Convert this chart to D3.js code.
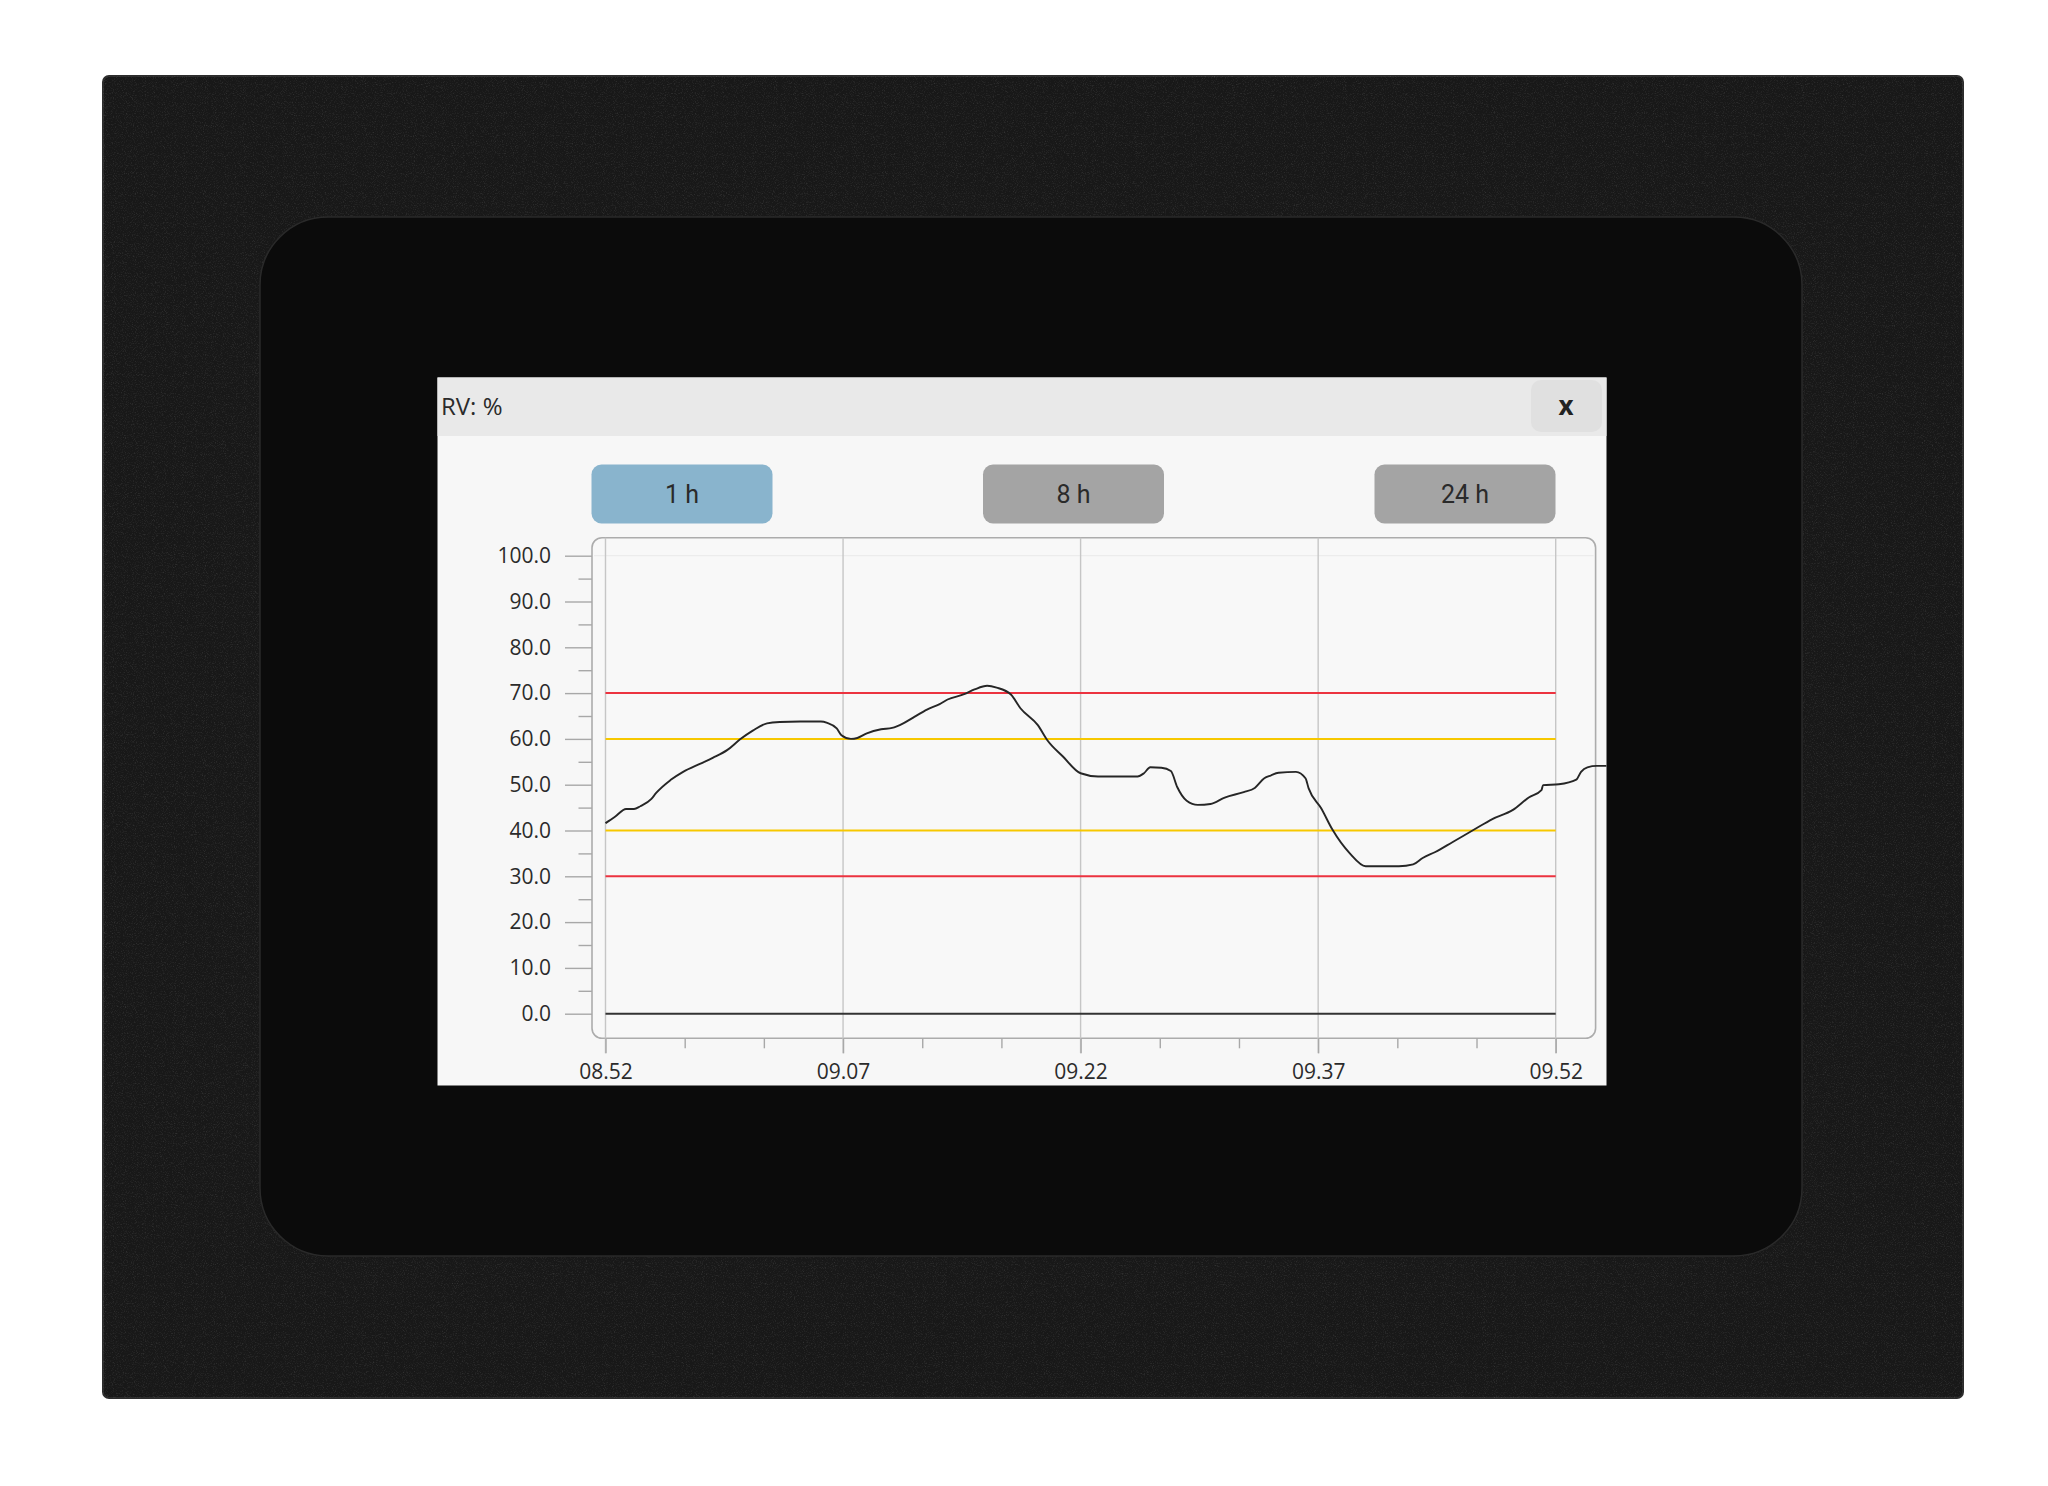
<!DOCTYPE html>
<html>
<head>
<meta charset="utf-8">
<script src="https://cdn.jsdelivr.net/npm/d3@7"></script>
<style>
  body { margin: 0; background: #ffffff; }
  svg { display: block; }
  .axis text { font-family: "Open Sans", sans-serif; font-size: 21px; fill: #2b2b2b; }
  .axis line { stroke: #a8a8a8; stroke-width: 1.4; }
  .axis path { display: none; }
</style>
</head>
<body>
<div id="chart"></div>
<script>
// RV (relative humidity) trend, last hour
var startTime = new Date(2020, 0, 1, 8, 52);
var tickLabels = ["08.52", "09.07", "09.22", "09.37", "09.52"];
var rangeButtons = ["1 h", "8 h", "24 h"];
var yTicks = [0, 10, 20, 30, 40, 50, 60, 70, 80, 90, 100];
var alarmLimits = [30, 70];
var warnLimits = [40, 60];

// minutes after 08.52
var sampleMinutes = [0, 0.6, 1.3, 1.8, 2.2, 2.9, 3.2, 4.1, 4.9, 6.0, 6.8, 7.7, 8.5, 9.3, 10.2, 11.0,
  12.3, 13.6, 14.0, 14.6, 14.9, 15.5, 15.9, 16.5, 17.4, 18.1, 18.8, 19.5, 20.3, 21.1, 21.6, 22.6,
  23.3, 24.1, 24.7, 25.6, 26.2, 27.3, 27.9, 28.9, 30.0, 31.1, 33.6, 34.0, 34.4, 35.1, 35.7, 36.1,
  36.7, 37.4, 38.2, 39.1, 40.3, 41.0, 41.6, 42.0, 42.5, 43.6, 44.2, 44.4, 45.2, 45.9, 47.0, 48.0,
  50.1, 51.0, 51.6, 52.4, 53.5, 54.8, 56.0, 57.3, 58.3, 59.1, 59.2, 60.2, 61.3, 61.6, 62.0, 62.6, 63.2];
var rvValues = [41.6, 43.0, 44.7, 44.7, 45.3, 46.9, 48.2, 51.0, 52.8, 54.6, 55.9, 57.6, 59.9, 61.8, 63.4, 63.7,
  63.8, 63.8, 63.5, 62.3, 60.8, 60.0, 60.2, 61.2, 62.1, 62.4, 63.4, 64.8, 66.4, 67.6, 68.6, 69.7,
  70.8, 71.6, 71.2, 69.7, 66.7, 63.0, 59.7, 56.1, 52.5, 51.8, 51.8, 52.5, 53.8, 53.7, 53.0, 49.5,
  46.5, 45.6, 45.8, 47.2, 48.4, 49.3, 51.4, 52.0, 52.6, 52.8, 51.4, 49.2, 44.8, 40.2, 35.0, 32.2,
  32.2, 32.6, 34.0, 35.3, 37.5, 40.1, 42.5, 44.5, 47.2, 48.8, 49.9, 50.1, 51.1, 52.8, 53.8, 54.1, 54.1];

var svgWidth = 2048;
var svgHeight = 1486;

function addMinutes(m) { return new Date(startTime.getTime() + m * 60000); }

var data = sampleMinutes.map(function (m, i) { return { time: addMinutes(m), rv: rvValues[i] }; });
var tickTimes = tickLabels.map(function (t, i) { return addMinutes(i * 15); });
var minorTimes = d3.range(0, 61, 5).filter(function (m) { return m % 15 !== 0; }).map(addMinutes);

var svg = d3.select("#chart").append("svg")
    .attr("width", svgWidth)
    .attr("height", svgHeight);

// grain texture for the housing
var defs = svg.append("defs");
var grain = defs.append("filter").attr("id", "grain")
    .attr("x", 0).attr("y", 0).attr("width", "100%").attr("height", "100%");
grain.append("feTurbulence").attr("type", "fractalNoise").attr("baseFrequency", 0.9)
    .attr("numOctaves", 3).attr("seed", 7).attr("result", "n");
grain.append("feColorMatrix").attr("in", "n").attr("type", "matrix")
    .attr("values", "0 0 0 0 0.6  0 0 0 0 0.6  0 0 0 0 0.6  1.6 0 0 0 -0.8");
grain.append("feComposite").attr("in2", "SourceGraphic").attr("operator", "in");

// housing
svg.append("rect")
    .attr("x", 103).attr("y", 76).attr("width", 1860).attr("height", 1322).attr("rx", 6)
    .attr("fill", "#181818").attr("stroke", "#2c2c2c").attr("stroke-width", 2);
svg.append("rect")
    .attr("x", 103).attr("y", 76).attr("width", 1860).attr("height", 1322).attr("rx", 6)
    .attr("fill", "#ffffff").attr("opacity", 0.22).attr("filter", "url(#grain)");

// bezel
svg.append("rect")
    .attr("x", 260).attr("y", 217).attr("width", 1542).attr("height", 1039).attr("rx", 68)
    .attr("fill", "#0b0b0b").attr("stroke", "#2a2a2a").attr("stroke-width", 1.5);

// screen
var screen = { x: 437.5, y: 377.5, w: 1169, h: 708 };
svg.append("rect")
    .attr("x", screen.x).attr("y", screen.y).attr("width", screen.w).attr("height", screen.h)
    .attr("fill", "#f7f7f7");
svg.append("rect")
    .attr("x", screen.x).attr("y", screen.y).attr("width", screen.w).attr("height", 58.5)
    .attr("fill", "#e9e9e9");
svg.append("text")
    .attr("x", 441).attr("y", 415)
    .style("font-family", "Open Sans, sans-serif").style("font-size", "24px").attr("fill", "#2b2b2b")
    .text("RV: %");
svg.append("rect")
    .attr("x", 1531).attr("y", 380).attr("width", 71).attr("height", 52).attr("rx", 10)
    .attr("fill", "#e0e0e0");
svg.append("text")
    .attr("x", 1566).attr("y", 415).attr("text-anchor", "middle")
    .style("font-family", "Open Sans, sans-serif").style("font-size", "26px").style("font-weight", 700)
    .attr("fill", "#222")
    .text("x");

// range buttons
var buttonX = d3.scalePoint().domain(rangeButtons).range([682, 1465]);
var buttons = svg.selectAll("g.btn").data(rangeButtons).enter().append("g")
    .attr("class", "btn")
    .attr("transform", function (d) { return "translate(" + buttonX(d) + ",494)"; });
buttons.append("rect")
    .attr("x", -90.5).attr("y", -29.5).attr("width", 181).attr("height", 59).attr("rx", 10)
    .attr("fill", function (d, i) { return i === 0 ? "#89b4cd" : "#a4a4a4"; });
buttons.append("text")
    .attr("text-anchor", "middle").attr("y", 9)
    .style("font-family", "Roboto, sans-serif").style("font-size", "25px").attr("fill", "#2a2a2a")
    .text(function (d) { return d; });

// scales
var xScale = d3.scaleTime()
    .domain([tickTimes[0], tickTimes[tickTimes.length - 1]])
    .range([605.5, 1555.7]);
var yScale = d3.scaleLinear()
    .domain([0, 100])
    .range([1013.7, 555.7]);

var box = { left: 592, top: 537.7, right: 1595.6, bottom: 1038.3 };

// chart frame
svg.append("rect")
    .attr("x", box.left).attr("y", box.top)
    .attr("width", box.right - box.left).attr("height", box.bottom - box.top).attr("rx", 10)
    .attr("fill", "#f8f8f8").attr("stroke", "#acacac").attr("stroke-width", 1.6);

svg.append("line")
    .attr("x1", box.left + 2).attr("x2", box.right - 2)
    .attr("y1", yScale(100)).attr("y2", yScale(100))
    .attr("stroke", "#ececec").attr("stroke-width", 1.2);

// vertical grid
svg.selectAll("line.vgrid").data(tickTimes).enter().append("line")
    .attr("class", "vgrid")
    .attr("x1", function (d) { return xScale(d); }).attr("x2", function (d) { return xScale(d); })
    .attr("y1", box.top).attr("y2", box.bottom + 15)
    .attr("stroke", "#c6c6c6").attr("stroke-width", 1.4);

// axes
var leftAxis = d3.axisLeft(yScale).tickValues(yTicks).tickSize(27).tickPadding(14)
    .tickFormat(d3.format(".1f"));
var leftMinor = d3.axisLeft(yScale).tickValues(yTicks.slice(1).map(function (v) { return v - 5; }))
    .tickSize(13.5).tickFormat("");
svg.append("g").attr("class", "axis").attr("transform", "translate(" + box.left + ",0)").call(leftAxis);
svg.append("g").attr("class", "axis").attr("transform", "translate(" + box.left + ",0)").call(leftMinor);

var bottomAxis = d3.axisBottom(xScale).tickValues(tickTimes).tickSize(15).tickPadding(11)
    .tickFormat(function (d, i) { return tickLabels[i]; });
var bottomMinor = d3.axisBottom(xScale).tickValues(minorTimes).tickSize(10).tickFormat("");
svg.append("g").attr("class", "axis").attr("transform", "translate(0," + box.bottom + ")").call(bottomAxis);
svg.append("g").attr("class", "axis").attr("transform", "translate(0," + box.bottom + ")").call(bottomMinor);

// limit lines
function limitLine(value, color) {
    svg.append("line")
        .attr("x1", xScale.range()[0]).attr("x2", xScale.range()[1])
        .attr("y1", yScale(value)).attr("y2", yScale(value))
        .attr("stroke", color).attr("stroke-width", 2);
}
alarmLimits.forEach(function (v) { limitLine(v, "#ec3340"); });
warnLimits.forEach(function (v) { limitLine(v, "#f7c800"); });
limitLine(0, "#333333");

// data line
var line = d3.line()
    .x(function (d) { return xScale(d.time); })
    .y(function (d) { return yScale(d.rv); })
    .curve(d3.curveMonotoneX);
svg.append("path")
    .datum(data)
    .attr("d", line)
    .attr("fill", "none")
    .attr("stroke", "#262626")
    .attr("stroke-width", 1.9);
</script>
</body>
</html>
